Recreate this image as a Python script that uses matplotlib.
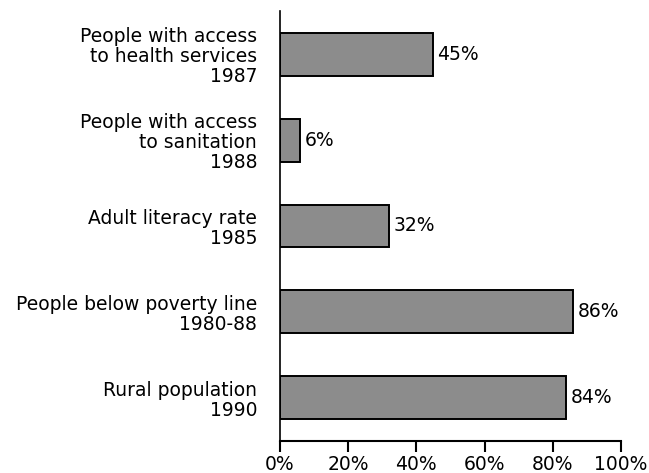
#!/usr/bin/env python3
import matplotlib
matplotlib.use('Agg')
import matplotlib.pyplot as plt

labels = [
    "People with access\nto health services\n1987",
    "People with access\nto sanitation\n1988",
    "Adult literacy rate\n1985",
    "People below poverty line\n1980-88",
    "Rural population\n1990",
]
values = [45, 6, 32, 86, 84]
xticks = [0, 20, 40, 60, 80, 100]

plt.rcParams['font.family'] = ['DejaVu Sans']

fig = plt.figure(figsize=(6.49, 4.73), dpi=100)
ax = fig.add_axes([0.4314, 0.0677, 0.5254, 0.909])

pos = list(range(len(values)))
ax.barh(pos, values, height=0.5, color='#8c8c8c', edgecolor='black', linewidth=1.4)

for p, v in zip(pos, values):
    ax.text(v + 1.2, p, "%d%%" % v, va='center', ha='left', fontsize=13.5)

ax.set_ylim(4.5, -0.5)
ax.set_xlim(0, 100)
ax.set_yticks(pos)
ax.set_yticklabels(labels, fontsize=13.5, linespacing=1.05)
ax.tick_params(axis='y', length=0, pad=16.5)
ax.set_xticks(xticks)
ax.set_xticklabels(["%d%%" % t for t in xticks], fontsize=13.5)
ax.tick_params(axis='x', direction='out', length=8, width=1.5, pad=2)
ax.spines['top'].set_visible(False)
ax.spines['right'].set_visible(False)
ax.spines['left'].set_linewidth(1.2)
ax.spines['bottom'].set_linewidth(1.5)

fig.savefig('out.png', dpi=100)
